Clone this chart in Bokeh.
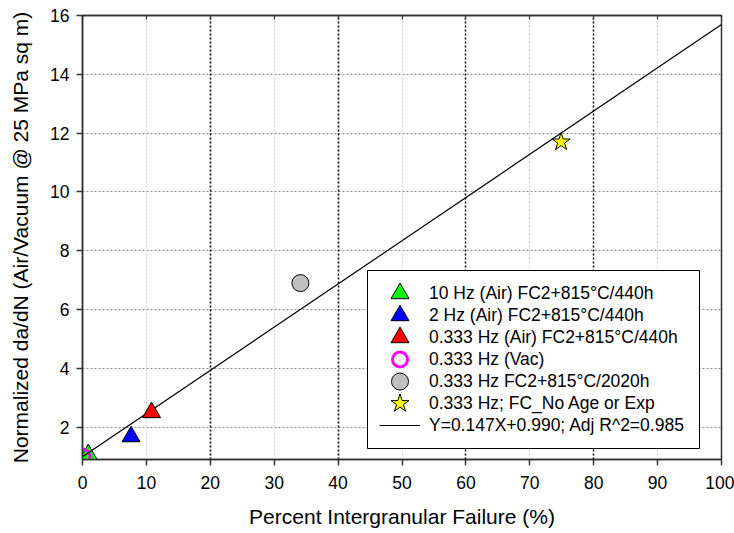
from bokeh.plotting import figure
from bokeh.models import Range1d, LinearAxis, Grid, FixedTicker, Legend, LegendItem
from bokeh.embed import file_html
from bokeh.resources import INLINE

# ---- data ----
green_x = [0.9]
green_y = [1.07]
blue_x = [7.6]
blue_y = [1.68]
red_x = [10.8]
red_y = [2.5]
vac_x = [0.0]
vac_y = [1.0]
gray_x = [34.1]
gray_y = [6.9]
star_x = [74.9]
star_y = [11.7]

fit_slope = 0.147
fit_intercept = 0.990
fit_x = [0, 100]
fit_y = [fit_slope * v + fit_intercept for v in fit_x]

x_ticks = [0, 10, 20, 30, 40, 50, 60, 70, 80, 90, 100]
y_ticks = [2, 4, 6, 8, 10, 12, 14, 16]
hgrid_ticks = [2, 4, 6, 8, 10, 12, 14]
vgrid_light = [10, 30, 50, 70, 90]
vgrid_dark = [20, 40, 60, 80]

labels = [
    "10 Hz (Air) FC2+815°C/440h",
    "2 Hz (Air) FC2+815°C/440h",
    "0.333 Hz (Air) FC2+815°C/440h",
    "0.333 Hz (Vac)",
    "0.333 Hz FC2+815°C/2020h",
    "0.333 Hz; FC_No Age or Exp",
    "Y=0.147X+0.990; Adj R^2=0.985",
]

FONT = "Liberation Sans"
AX = "#333333"

W, H = 734, 533
BL, BR, BT, BB = 82, 13, 15, 74
FW, FH = W - BL - BR, H - BT - BB

p = figure(width=W, height=H, x_range=Range1d(0, 100), y_range=Range1d(0.9, 16),
           output_backend="svg", toolbar_location=None,
           min_border_left=BL, min_border_right=BR, min_border_top=BT, min_border_bottom=BB)
p.extra_x_ranges = {"px": Range1d(0, FW)}
p.extra_y_ranges = {"py": Range1d(0, FH)}
p.outline_line_color = AX
p.outline_line_width = 1.5
p.background_fill_color = "white"
p.border_fill_color = "white"
p.xgrid.visible = False
p.ygrid.visible = False

# axes
for ax in (p.xaxis[0], p.yaxis[0]):
    ax.axis_line_color = AX
    ax.axis_line_width = 1.5
    ax.major_tick_line_color = AX
    ax.major_tick_line_width = 1.5
    ax.major_tick_in = 0
    ax.major_tick_out = 6
    ax.minor_tick_line_color = None
    ax.major_label_text_font = FONT
    ax.major_label_text_font_size = "17.5px"
    ax.major_label_text_color = "black"
    ax.axis_label_text_font = FONT
    ax.axis_label_text_font_size = "21px"
    ax.axis_label_text_font_style = "normal"
    ax.axis_label_text_color = "black"

p.xaxis[0].ticker = FixedTicker(ticks=x_ticks)
p.yaxis[0].ticker = FixedTicker(ticks=y_ticks)
p.xaxis[0].axis_label = "Percent Intergranular Failure (%)"
p.yaxis[0].axis_label = "Normalized da/dN (Air/Vacuum @ 25 MPa sq m)"
p.xaxis[0].major_label_standoff = 10
p.xaxis[0].axis_label_standoff = 13
p.yaxis[0].major_label_standoff = 7
p.yaxis[0].axis_label_standoff = 15

top = LinearAxis(ticker=FixedTicker(ticks=x_ticks), major_label_text_font_size="8px",
                 major_label_text_color=None,
                 major_label_standoff=0, major_tick_in=4, major_tick_out=0,
                 major_tick_line_color=AX, major_tick_line_width=1.2,
                 axis_line_color=AX, axis_line_width=1.5,
                 minor_tick_line_color=None)
p.add_layout(top, "above")

# grids
p.add_layout(Grid(dimension=1, ticker=FixedTicker(ticks=hgrid_ticks), grid_line_color="#8a8a8a",
                  grid_line_dash="2 2", grid_line_width=1))
p.add_layout(Grid(dimension=0, ticker=FixedTicker(ticks=vgrid_light), grid_line_color="#cfcfcf",
                  grid_line_dash="2 2", grid_line_width=1))
p.add_layout(Grid(dimension=0, ticker=FixedTicker(ticks=vgrid_dark), grid_line_color="black",
                  grid_line_dash="2 2", grid_line_width=1.5))

# glyph styles
styles = [
    dict(marker="triangle", size=18, fill_color="#00ff00", line_color="black", line_width=1),
    dict(marker="triangle", size=18, fill_color="#0000ff", line_color="black", line_width=1),
    dict(marker="triangle", size=18, fill_color="#ff0000", line_color="black", line_width=1),
    dict(marker="circle", size=15, fill_color="white", fill_alpha=0, line_color="#ff00ff", line_width=3),
    dict(marker="circle", size=17, fill_color="#c0c0c0", line_color="black", line_width=1),
    dict(marker="star", size=19, fill_color="#ffff00", line_color="black", line_width=1),
]

r_green = p.scatter(green_x, green_y, **styles[0])
r_vac = p.scatter(vac_x, vac_y, **styles[3])
r_line = p.line(fit_x, fit_y, line_color="black", line_width=1.2)
r_blue = p.scatter(blue_x, blue_y, **styles[1])
r_red = p.scatter(red_x, red_y, **styles[2])
r_gray = p.scatter(gray_x, gray_y, **styles[4])
r_star = p.scatter(star_x, star_y, **styles[5])

# ---- legend: box + full-size markers drawn in frame-pixel space, labels via Legend ----
LX, LY, LW = 285, 11, 332
PAD, GW, GH, SP, STAND = 12, 41, 22, 0, 9
n = len(labels)
leg_h = 2 * PAD + n * GH + (n - 1) * SP
leg_top = LY + leg_h

p.quad(left=[LX], right=[LX + LW], bottom=[LY], top=[leg_top],
       x_range_name="px", y_range_name="py",
       fill_color="white", line_color="black", line_width=1)

gx = LX + PAD + GW / 2
for i, st in enumerate(styles):
    gy = leg_top - PAD - i * (GH + SP) - GH / 2
    p.scatter([gx], [gy], x_range_name="px", y_range_name="py", **st)

proxies = [p.scatter([], [], marker="circle", fill_alpha=0, line_alpha=0) for _ in range(6)]
renderers = proxies + [r_line]
# borderless legend has no padding, so shift it by PAD to sit inside the box
legend = Legend(items=[LegendItem(label=l, renderers=[r]) for l, r in zip(labels, renderers)],
                location=(LX + PAD, LY + PAD), glyph_width=GW, glyph_height=GH, label_height=GH,
                spacing=SP, padding=0, margin=0, label_standoff=STAND,
                label_text_font=FONT, label_text_font_size="17.5px", label_text_color="black",
                border_line_color=None, background_fill_alpha=0)
p.add_layout(legend, "center")

open("out.html", "w").write(file_html(p, INLINE))
